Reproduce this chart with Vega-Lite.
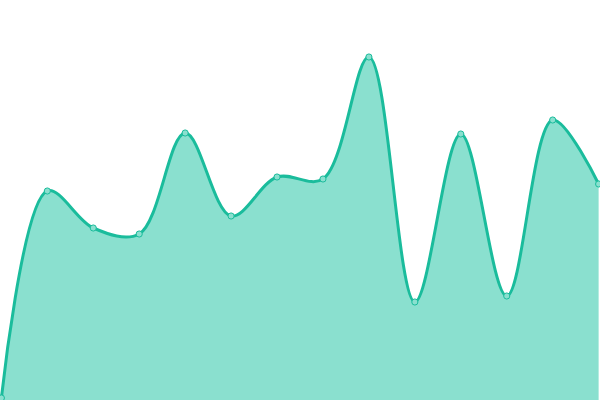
{
  "$schema": "https://vega.github.io/schema/vega-lite/v6.json",
  "description": "Smoothed area chart with point markers, no axes.",
  "width": 600,
  "height": 400,
  "autosize": {"type": "none"},
  "padding": 0,
  "background": "#ffffff",
  "config": {"view": {"stroke": null}},
  "data": {
    "values": [
      {"i": 0, "v": 2},
      {"i": 1, "v": 209},
      {"i": 2, "v": 172},
      {"i": 3, "v": 166},
      {"i": 4, "v": 267},
      {"i": 5, "v": 184},
      {"i": 6, "v": 223},
      {"i": 7, "v": 221},
      {"i": 8, "v": 343},
      {"i": 9, "v": 98},
      {"i": 10, "v": 266},
      {"i": 11, "v": 104},
      {"i": 12, "v": 280},
      {"i": 13, "v": 216}
    ]
  },
  "encoding": {
    "x": {
      "field": "i",
      "type": "quantitative",
      "axis": null,
      "scale": {"domain": [-0.03, 13.03], "nice": false, "zero": false}
    },
    "y": {
      "field": "v",
      "type": "quantitative",
      "axis": null,
      "scale": {"domain": [0, 400], "nice": false}
    }
  },
  "layer": [
    {
      "mark": {"type": "area", "interpolate": "catmull-rom", "color": "#8ae0cf", "opacity": 1}
    },
    {
      "mark": {"type": "line", "interpolate": "catmull-rom", "color": "#1abc9c", "strokeWidth": 3}
    },
    {
      "mark": {"type": "point", "filled": true, "size": 38, "fill": "#8ae0cf", "stroke": "#1abc9c", "strokeWidth": 1, "opacity": 1}
    }
  ]
}
